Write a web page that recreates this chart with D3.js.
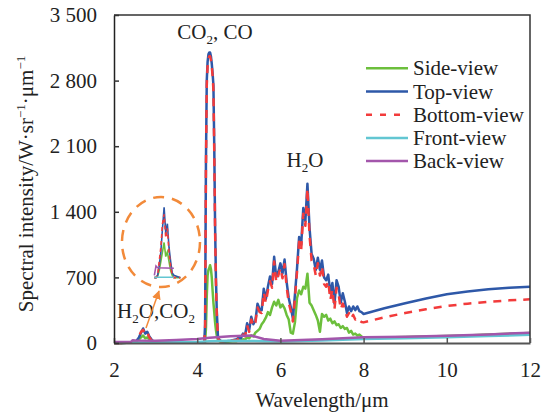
<!DOCTYPE html>
<html><head><meta charset="utf-8">
<script src="https://cdn.jsdelivr.net/npm/d3@7"></script>
<style>
html,body{margin:0;padding:0;background:#fff;}
svg, svg text{font-family:"Liberation Serif","Times New Roman",Times,serif !important;}
svg text{fill:#222;}
</style></head>
<body><svg id="c" width="547" height="415" font-family="Liberation Serif, serif"></svg>
<script>
// ---- data ----
const wlMain = [
  2.0, 2.2, 2.4, 2.45, 2.5, 2.55, 2.6, 2.65, 2.7, 2.75, 2.8, 2.85, 2.9, 2.95, 3.0, 3.2, 3.5, 3.8, 4.0, 4.1, 4.17,
  4.19, 4.21, 4.23, 4.25, 4.27, 4.29, 4.31, 4.33, 4.35, 4.37, 4.39, 4.41, 4.43, 4.45, 4.47, 4.5, 4.55, 4.6, 4.7, 4.8, 4.9,
  4.95, 5.0, 5.05, 5.1, 5.15, 5.2, 5.25, 5.3, 5.35, 5.4,
  5.45, 5.5, 5.55, 5.6, 5.65, 5.7, 5.75, 5.8, 5.85, 5.9,
  5.95, 6.0, 6.05, 6.1, 6.15, 6.2, 6.25, 6.3, 6.35, 6.4,
  6.45, 6.5, 6.55, 6.6, 6.65, 6.7, 6.75, 6.8, 6.85, 6.9,
  6.95, 7.0, 7.05, 7.1, 7.15, 7.2, 7.25, 7.3, 7.35, 7.4,
  7.45, 7.5, 7.55, 7.6, 7.65, 7.7, 7.75, 7.8, 7.85, 7.9,
  7.95, 8.0,
  8.5, 9.0, 9.5, 10.0, 10.5, 11.0, 11.5, 12.0
];
const sideView = [
  0, 0, 5, 5, 8, 20, 40, 60, 80, 50, 60, 40, 20, 10, 5, 5, 5, 5, 5, 5, 10,
  10, 150, 500, 720, 780, 800, 830, 790, 700, 560, 430, 330, 220, 140, 80, 30, 15, 10, 10, 15, 20,
  20, 30, 25, 40, 35, 60, 50, 80, 70, 110,
  130, 150, 200, 230, 270, 330, 300, 380, 440, 400,
  460, 380, 410, 370, 300, 250, 110, 100, 220, 480,
  560, 520, 600, 580, 740, 430, 400, 350, 300, 240,
  120, 310, 280, 300, 240, 260, 210, 230, 190, 200,
  160, 180, 150, 160, 110, 130, 90, 100, 80, 90,
  70, 50,
  60, 65, 70, 75, 80, 90, 100, 108
];
const topView = [
  0, 0, 5, 5, 10, 30, 60, 110, 155, 100, 120, 70, 40, 15, 10, 5, 5, 5, 5, 5, 10,
  200, 1900, 2800, 3000, 3080, 3100, 3100, 3060, 2980, 2880, 2750, 2100, 1250, 700, 350, 60, 25, 20, 20, 25, 35,
  40, 60, 50, 100, 80, 210, 140, 280, 200, 240,
  420, 360, 350, 580, 470, 600, 710, 630, 920, 700,
  760, 850, 740, 890, 650, 480, 380, 260, 520, 800,
  1130, 1050, 1440, 1300, 1700, 1230, 950, 900, 780, 910,
  780, 880, 700, 670, 730, 530, 640, 420, 670, 600,
  430, 530, 440, 320, 390, 340, 390, 350, 390, 340,
  330, 310,
  370, 425, 475, 520, 550, 573, 590, 601
];
const bottomView = [
  0, 0, 5, 5, 10, 40, 70, 120, 140, 90, 110, 60, 30, 10, 5, 5, 5, 5, 5, 5, 10,
  150, 1850, 2750, 2950, 3030, 3060, 3060, 3020, 2950, 2850, 2700, 2050, 1200, 650, 320, 50, 20, 20, 20, 25, 30,
  30, 50, 40, 90, 70, 190, 120, 250, 180, 220,
  380, 330, 320, 540, 430, 560, 660, 590, 870, 650,
  720, 800, 690, 840, 600, 430, 340, 230, 480, 760,
  1080, 1000, 1380, 1250, 1650, 1150, 880, 840, 720, 850,
  720, 820, 630, 600, 660, 460, 570, 360, 590, 520,
  360, 420, 360, 280, 320, 260, 300, 250, 270, 240,
  225, 220,
  275, 320, 360, 395, 420, 440, 455, 466
];
const wlBase    = [2.0, 2.4, 2.45, 2.5, 3.0, 3.5, 4.0, 4.3, 4.8, 5.3, 5.6, 6.0, 7.0, 8.0, 9.0, 10.0, 11.0, 12.0];
const frontView = [5, 5, 6, 6, 6, 8, 10, 18, 24, 22, 18, 15, 28, 42, 52, 62, 74, 88];
const backView  = [10, 10, 30, 26, 25, 32, 42, 56, 72, 80, 42, 25, 40, 62, 68, 78, 92, 110];

const xTicks = [2, 4, 6, 8, 10, 12];
const yTicks = [0, 700, 1400, 2100, 2800, 3500];
const seriesNames = ["Side-view", "Top-view", "Bottom-view", "Front-view", "Back-view"];
const seriesColors = ["#6cbf3c", "#2e58a8", "#f23b3b", "#62c6d2", "#a356ab"];

// ---- chart ----
const FF = '"Liberation Serif","Times New Roman",Times,serif';
const svg = d3.select("#c");
const x = d3.scaleLinear().domain([2, 12]).range([114, 530]);
const y = d3.scaleLinear().domain([0, 3500]).range([343, 15]);
const font = 21;

const series = [
  {name: seriesNames[0], wl: wlMain, v: sideView, color: seriesColors[0], dash: null},
  {name: seriesNames[1], wl: wlMain, v: topView, color: seriesColors[1], dash: null},
  {name: seriesNames[2], wl: wlMain, v: bottomView, color: seriesColors[2], dash: "8,7"},
  {name: seriesNames[3], wl: wlBase, v: frontView, color: seriesColors[3], dash: null},
  {name: seriesNames[4], wl: wlBase, v: backView, color: seriesColors[4], dash: null}
];

const line = d3.line().x(d => x(d[0])).y(d => y(d[1])).curve(d3.curveLinear);
series.forEach(s => {
  const pts = s.wl.map((w, i) => [w, s.v[i]]);
  svg.append("path").attr("d", line(pts)).attr("fill", "none")
    .attr("stroke", s.color).attr("stroke-width", 2.5)
    .attr("stroke-dasharray", s.dash).attr("stroke-linejoin", "round");
});

// frame
svg.append("path").attr("d", `M${x(2)},${y(3500)}H${x(12)}V${y(0)}`)
  .attr("fill", "none").attr("stroke", "#333").attr("stroke-width", 1.5);

const loc = d3.formatLocale({decimal: ".", thousands: " ", grouping: [3], currency: ["", ""]});
const fmt = loc.format(",d");

const ax = svg.append("g").attr("transform", `translate(0,${y(0)})`)
  .call(d3.axisBottom(x).tickValues(xTicks).tickSizeInner(-5).tickSizeOuter(0).tickPadding(19));
ax.attr("font-family", FF).attr("font-size", font);
ax.select(".domain").attr("stroke", "#555").attr("stroke-width", 2);
ax.selectAll(".tick line").attr("stroke", "#555").attr("stroke-width", 1.5);
ax.selectAll(".tick text").style("font-family", FF).attr("font-size", font).attr("fill", "#222");

const ay = svg.append("g").attr("transform", `translate(${x(2)},0)`)
  .call(d3.axisLeft(y).tickValues(yTicks).tickFormat(fmt).tickSizeInner(-5).tickSizeOuter(0).tickPadding(17));
ay.attr("font-family", FF).attr("font-size", font);
ay.select(".domain").attr("stroke", "#222").attr("stroke-width", 1.5);
ay.selectAll(".tick line").attr("stroke", "#333").attr("stroke-width", 1.5);
ay.selectAll(".tick text").style("font-family", FF).attr("font-size", font).attr("fill", "#222");

// axis titles
svg.append("text").attr("x", 322).attr("y", 407).attr("text-anchor", "middle")
  .style("font-family", FF).attr("font-size", font).text("Wavelength/μm");
const yt = svg.append("text").attr("transform", "translate(33,184) rotate(-90)")
  .style("font-family", FF).attr("text-anchor", "middle").attr("font-size", font);
yt.append("tspan").text("Spectral intensity/W·sr");
yt.append("tspan").attr("font-size", 13).attr("dy", -8).text("−1");
yt.append("tspan").attr("dy", 8).text("·μm");
yt.append("tspan").attr("font-size", 13).attr("dy", -8).text("−1");

// annotations
function chem(xc, yb, parts) {
  const t = svg.append("text").attr("x", xc).attr("y", yb).attr("text-anchor", "middle")
    .style("font-family", FF).attr("font-size", font);
  parts.forEach(p => {
    if (p.sub) t.append("tspan").attr("font-size", 13).attr("dy", 5).text(p.t);
    else t.append("tspan").attr("dy", p.after ? -5 : 0).text(p.t);
  });
}
chem(215, 39, [{t: "CO"}, {t: "2", sub: true}, {t: ", CO", after: true}]);
chem(305, 167, [{t: "H"}, {t: "2", sub: true}, {t: "O", after: true}]);
chem(156, 318, [{t: "H"}, {t: "2", sub: true}, {t: "O,CO", after: true}, {t: "2", sub: true}]);

// inset (magnified 2.4-3.2 µm region)
const xi = d3.scaleLinear().domain([2.42, 3.25]).range([155, 182]);
const yi = d3.scaleLinear().domain([0, 160]).range([280, 205]);
const lineI = d3.line().x(d => xi(d[0])).y(d => yi(d[1])).curve(d3.curveLinear);
series.forEach(s => {
  const pts = s.wl.map((w, i) => [w, s.v[i]]).filter(d => d[0] >= 2.4 && d[0] <= 3.2);
  svg.append("path").attr("d", lineI(pts)).attr("fill", "none")
    .attr("stroke", s.color).attr("stroke-width", 1.6)
    .attr("stroke-dasharray", s.dash ? "4,3" : null);
});
svg.append("ellipse").attr("cx", 161).attr("cy", 242).attr("rx", 39).attr("ry", 45)
  .attr("fill", "none").attr("stroke", "#f28a3a").attr("stroke-width", 2.5).attr("stroke-dasharray", "11,8");
svg.append("defs").append("marker").attr("id", "ah").attr("viewBox", "0 0 10 10")
  .attr("refX", 9).attr("refY", 5).attr("markerWidth", 6).attr("markerHeight", 6).attr("orient", "auto")
  .append("path").attr("d", "M0,0L10,5L0,10Z").attr("fill", "#f28a3a");
svg.append("line").attr("x1", 146).attr("y1", 328).attr("x2", 159).attr("y2", 291)
  .attr("stroke", "#f28a3a").attr("stroke-width", 1.5).attr("marker-end", "url(#ah)");

// legend
const lg = svg.append("g");
series.forEach((s, i) => {
  const ly = 68.3 + i * 23.2;
  lg.append("line").attr("x1", 366).attr("x2", 408).attr("y1", ly).attr("y2", ly)
    .attr("stroke", s.color).attr("stroke-width", 2.5).attr("stroke-dasharray", s.dash ? "6,8" : null);
  lg.append("text").attr("x", 413).attr("y", ly + 7).style("font-family", FF).attr("font-size", font).text(s.name);
});
</script></body></html>
